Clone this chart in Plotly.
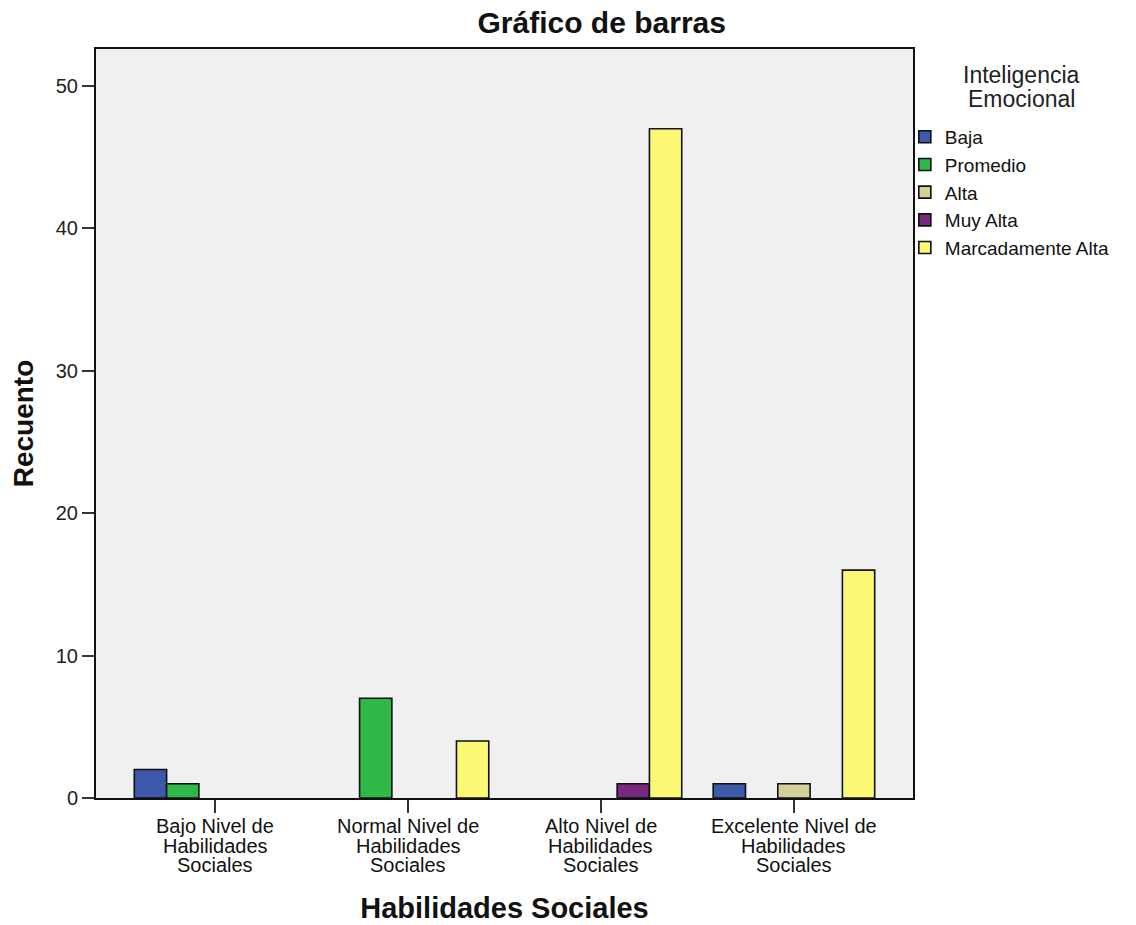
import plotly.graph_objects as go

categories = [
    "Bajo Nivel de<br>Habilidades<br>Sociales",
    "Normal Nivel de<br>Habilidades<br>Sociales",
    "Alto Nivel de<br>Habilidades<br>Sociales",
    "Excelente Nivel de<br>Habilidades<br>Sociales",
]
series_names = ["Baja", "Promedio", "Alta", "Muy Alta", "Marcadamente Alta"]
baja = [2, None, None, 1]
promedio = [1, 7, None, None]
alta = [None, None, None, 1]
muy_alta = [None, None, 1, None]
marcadamente_alta = [None, 4, 47, 16]
series_values = [baja, promedio, alta, muy_alta, marcadamente_alta]
colors = ["#3e58ac", "#2eb848", "#d4ce99", "#7a287d", "#fbf873"]
y_ticks = [0, 10, 20, 30, 40, 50]
legend_title_lines = ["Inteligencia", "Emocional"]

FONT = "Liberation Sans, Arial, sans-serif"
xpos = list(range(len(categories)))

fig = go.Figure()
for name, vals, col in zip(series_names, series_values, colors):
    fig.add_trace(go.Bar(
        x=xpos, y=vals, name=name,
        marker=dict(color=col, line=dict(color="#111111", width=1.6)),
    ))

# category labels (tight line spacing) via annotations on the data x-scale
annotations = []
line_offsets = [-28, -47.5, -67]
for xi, cat in zip(xpos, categories):
    for li, line in enumerate(cat.split("<br>")):
        annotations.append(dict(
            x=xi, xref="x", y=0, yref="paper", text=line, showarrow=False,
            yanchor="middle", yshift=line_offsets[li],
            font=dict(family=FONT, size=20, color="#111111"),
        ))

# legend title, centered lines
for li, (line, yy) in enumerate(zip(legend_title_lines, [0.965, 0.933])):
    annotations.append(dict(
        x=1.133, xref="paper", y=yy, yref="paper", text=line, showarrow=False,
        xanchor="center", yanchor="middle",
        font=dict(family=FONT, size=23, color="#222222"),
    ))

fig.update_layout(
    width=1136, height=925,
    margin=dict(l=96, r=223, t=49, b=127, autoexpand=False),
    paper_bgcolor="white",
    plot_bgcolor="#f0f0f0",
    barmode="group",
    bargap=0.163,
    bargroupgap=0,
    font=dict(family=FONT, size=20, color="#111111"),
    title=dict(
        text="<b>Gráfico de barras</b>",
        x=0.619, xref="paper", xanchor="center",
        y=0.976, yref="container", yanchor="middle",
        font=dict(family=FONT, size=30, color="#111111"),
    ),
    xaxis=dict(
        range=[-0.617, 3.617],
        tickvals=xpos,
        showticklabels=False,
        ticks="outside", ticklen=13, tickwidth=2, tickcolor="#333333",
        showline=True, linecolor="#111111", linewidth=2, mirror=True,
        showgrid=False, zeroline=False,
        title=dict(text="<b>Habilidades Sociales</b>",
                   font=dict(family=FONT, size=29, color="#111111"),
                   standoff=86),
    ),
    yaxis=dict(
        range=[0, 52.6],
        tickvals=y_ticks,
        ticks="outside", ticklen=12, tickwidth=2, tickcolor="#333333",
        tickfont=dict(family=FONT, size=20, color="#222222"),
        showline=True, linecolor="#111111", linewidth=2, mirror=True,
        showgrid=False, zeroline=False,
        title=dict(text="<b>Recuento</b>",
                   font=dict(family=FONT, size=28, color="#111111"),
                   standoff=14),
    ),
    legend=dict(
        x=0.99, xanchor="left", y=0.908, yanchor="top",
        font=dict(family=FONT, size=19, color="#111111"),
        bgcolor="rgba(0,0,0,0)",
        tracegroupgap=0,
    ),
    annotations=annotations,
)

fig.write_html("out.html", config={"displayModeBar": False},
               post_script="document.body.style.margin='0';")
